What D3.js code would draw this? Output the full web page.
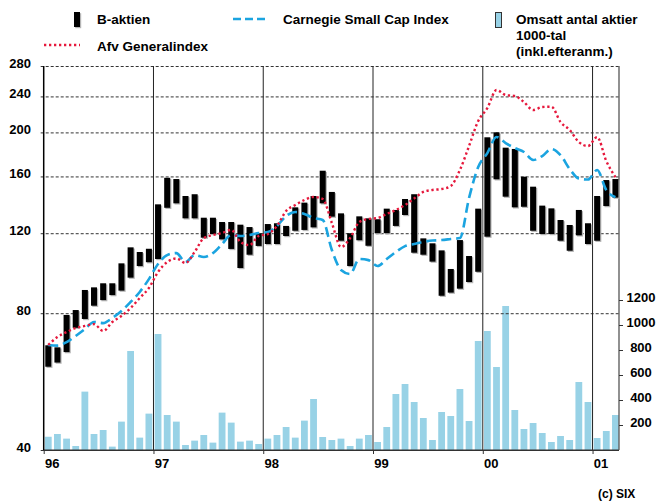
<!DOCTYPE html>
<html><head><meta charset="utf-8">
<script src="https://cdn.jsdelivr.net/npm/d3@7"></script>
<style>
body{margin:0;background:#fff}
svg text{font-family:"Liberation Sans",Arial,Helvetica,sans-serif;font-weight:bold;fill:#000}
</style>
</head><body>
<svg id="c" width="656" height="504"></svg>
<script>
// ---- data (Jan 1996 .. Mar 2001, monthly) ----
const yearLabels = ["96","97","98","99","00","01"];
const priceTicks = [40,80,120,160,200,240,280];
const volumeTicks = [200,400,600,800,1000,1200];

const bHigh = [
 68.0, 67.3, 79.3, 81.3, 90.0, 91.2, 93.1, 93.1,103.0,111.7,109.1,110.9,
138.9,158.9,157.9,144.9,146.2,129.8,129.8,127.0,127.0,125.3,123.8,120.0,
125.7,126.2,124.5,136.8,140.1,144.9,164.7,147.9,132.7,120.0,130.7,129.4,
128.8,135.9,135.0,142.7,146.2,116.9,114.0,110.0,100.1,115.9,106.9,135.9,
195.1,200.1,185.1,183.9,159.8,151.9,138.0,136.1,128.3,125.1,135.0,126.2,
144.9,157.1,157.9];
const bLow = [
 61.0, 62.3, 65.7, 74.3, 77.7, 83.1, 85.5, 87.7, 89.7, 95.8,101.6,103.6,
105.3,136.5,139.6,129.4,129.4,117.3,119.5,116.3,110.8,100.6,107.6,112.5,
113.6,113.6,118.3,121.5,122.0,123.6,139.6,130.5,115.5,101.6,115.8,112.6,
120.0,120.0,124.5,131.6,108.7,107.6,103.9, 87.4, 88.8, 90.6, 93.7, 98.7,
117.9,157.7,144.4,136.8,137.2,121.5,119.5,119.5,115.5,109.8,118.7,113.6,
115.5,137.7,143.7];
const afvGeneral = [
 68.1, 70.9, 72.7, 74.2, 75.0, 75.7, 73.1, 76.5, 78.9, 82.1, 86.4, 90.9,
 98.6,103.7,105.6,103.2,109.1,117.1,118.9,120.1,122.0,114.8,113.0,118.3,
119.5,124.5,134.3,138.4,142.0,144.2,142.7,126.4,111.9,117.1,127.0,129.0,
129.6,132.3,135.0,138.4,143.1,147.9,149.4,150.1,152.4,165.3,186.7,211.9,
226.3,247.9,241.7,240.5,233.3,224.0,227.4,227.8,210.8,202.4,190.5,186.7,
195.3,173.0,159.5];
const carnegieSmallCap = [
 68.1, 67.9, 69.1, 71.3, 73.8, 76.5, 76.1, 78.1, 80.9, 84.7, 89.1, 95.1,
102.7,107.4,108.5,103.7,107.4,106.4,108.5,113.6,118.9,118.3,118.9,120.1,
120.7,124.5,130.9,133.6,132.3,129.6,128.3,110.2, 99.6, 97.6,105.3,104.7,
101.6,105.3,109.1,112.4,113.6,114.8,115.6,115.9,116.5,117.1,143.5,167.8,
180.1,195.4,189.5,184.8,181.1,173.9,177.4,183.9,178.3,166.1,158.3,157.5,
165.3,149.3,144.1];
const volume = [
106,128, 91, 32,467,128,160, 27,227,792, 99,291,
928,280,227, 40, 75,120, 59,299,219, 67, 75, 48,
 91,120,184, 99,235,408,104, 80, 91, 32, 91,120,
 64,184,448,528,384,256, 80,304,272,488,232,872,
952,664,1152,320,168,216,136, 64,112, 80,544,384,
 96,152,280];

// ---- layout ----
const xL = 43.7, xR = 619, yT = 66, yB = 450;
const nMonths = bHigh.length;
const svg = d3.select("#c");
const x = d3.scaleLinear().domain([0, 63]).range([xL, 620]);
const y = d3.scaleLog().domain([40, 280]).range([yB, yT]);
const yv = d3.scaleLinear().domain([0, 1200]).range([yB, 300]);
const idx = d3.range(nMonths);

// volume bars
svg.append("g").selectAll("rect").data(idx).join("rect")
  .attr("x", i => x(i + 0.5) - 3.4).attr("width", 6.8)
  .attr("y", i => yv(volume[i])).attr("height", i => yB - yv(volume[i]))
  .attr("fill", "#98d2e6");

// left axis with dashed gridlines
const gl = svg.append("g").attr("transform", `translate(${xL},0)`)
  .call(d3.axisLeft(y).tickValues(priceTicks).tickFormat(d3.format("d")).tickSizeOuter(0));
gl.select(".domain").remove();
gl.selectAll(".tick line").attr("x1", -3).attr("x2", xR - xL)
  .attr("stroke", "#333").attr("stroke-width", 1)
  .attr("stroke-dasharray", d => d === 40 ? null : "3,2");
gl.selectAll(".tick text").attr("x", 31 - xL).attr("dy", 1).attr("text-anchor", "end")
  .attr("font-size", 13).attr("fill", "#000");

// year lines
const yearIdx = [0, 12, 24, 36, 48, 60];
svg.append("g").selectAll("line").data(yearIdx.slice(1)).join("line")
  .attr("x1", d => x(d)).attr("x2", d => x(d)).attr("y1", yT).attr("y2", yB)
  .attr("stroke", "#222").attr("stroke-width", 1);

// bottom axis
const gb = svg.append("g").attr("transform", `translate(0,${yB})`)
  .call(d3.axisBottom(x).tickValues(yearIdx).tickFormat((d, i) => yearLabels[i]).tickSize(4).tickSizeOuter(0));
gb.select(".domain").attr("stroke", "#333").attr("d", `M${xL},0H${xR}`);
gb.selectAll(".tick line").attr("stroke", "#333");
gb.selectAll(".tick text").attr("text-anchor", "start").attr("x", 0.8).attr("y", 18).attr("dy", 0)
  .attr("font-size", 13).attr("fill", "#000");

// left & right axis lines
svg.append("line").attr("x1", xL).attr("x2", xL).attr("y1", yT).attr("y2", yB)
  .attr("stroke", "#000").attr("stroke-width", 1.5);
const gr = svg.append("g").attr("transform", `translate(${xR},0)`)
  .call(d3.axisRight(yv).tickValues(volumeTicks).tickFormat(d3.format("d")).tickSize(4).tickSizeOuter(0));
gr.select(".domain").attr("stroke", "#555").attr("stroke-width", 1.3).attr("d", `M0,${yT}V${yB}`);
gr.selectAll(".tick line").attr("stroke", "#333");
gr.selectAll(".tick text").attr("x", 641 - xR).attr("text-anchor", "middle").attr("dy", 1)
  .attr("font-size", 13).attr("fill", "#000");

// B-aktien range bars
const gbars = svg.append("g");
gbars.selectAll("rect.s").data(idx).join("rect").attr("class", "s")
  .attr("x", i => x(i + 0.5) - 3 + 1.2).attr("width", 6)
  .attr("y", i => y(bHigh[i]) + 1.2).attr("height", i => y(bLow[i]) - y(bHigh[i]))
  .attr("fill", "#b5b5b5");
gbars.selectAll("rect.b").data(idx).join("rect").attr("class", "b")
  .attr("x", i => x(i + 0.5) - 3).attr("width", 6)
  .attr("y", i => y(bHigh[i])).attr("height", i => y(bLow[i]) - y(bHigh[i]))
  .attr("fill", "#000");

// index lines
const line = d3.line().x((d, i) => x(i + 0.5)).y(d => y(d)).curve(d3.curveMonotoneX);
svg.append("path").attr("d", line(carnegieSmallCap)).attr("fill", "none")
  .attr("stroke", "#1ba4e0").attr("stroke-width", 2.6).attr("stroke-dasharray", "10,5");
svg.append("path").attr("d", line(afvGeneral)).attr("fill", "none")
  .attr("stroke", "#e6183c").attr("stroke-width", 2.4).attr("stroke-dasharray", "2.3,2.7");

// legend
const lg = svg.append("g");
lg.append("rect").attr("x", 75.2).attr("y", 13.2).attr("width", 6).attr("height", 15).attr("fill", "#b5b5b5");
lg.append("rect").attr("x", 74).attr("y", 12).attr("width", 6).attr("height", 15).attr("fill", "#000");
lg.append("text").attr("x", 97).attr("y", 24).attr("font-size", 13.5).text("B-aktien");
lg.append("line").attr("x1", 44).attr("x2", 80).attr("y1", 45).attr("y2", 45)
  .attr("stroke", "#e6183c").attr("stroke-width", 2.4).attr("stroke-dasharray", "2.3,2.7");
lg.append("text").attr("x", 97).attr("y", 51).attr("font-size", 13.5).text("Afv Generalindex");
lg.append("line").attr("x1", 233).attr("x2", 265).attr("y1", 19).attr("y2", 19)
  .attr("stroke", "#1ba4e0").attr("stroke-width", 2.6).attr("stroke-dasharray", "8,4");
lg.append("text").attr("x", 283).attr("y", 24).attr("font-size", 13.5).text("Carnegie Small Cap Index");
lg.append("rect").attr("x", 495.5).attr("y", 12.5).attr("width", 6).attr("height", 15)
  .attr("fill", "#98d2e6").attr("stroke", "#333").attr("stroke-width", 1);
lg.append("text").attr("x", 516).attr("y", 24).attr("font-size", 13.5).text("Omsatt antal aktier");
lg.append("text").attr("x", 516).attr("y", 40).attr("font-size", 13.5).text("1000-tal");
lg.append("text").attr("x", 516).attr("y", 56).attr("font-size", 13.5).text("(inkl.efteranm.)");

svg.append("text").attr("x", 598).attr("y", 498).attr("font-size", 12).text("(c) SIX");
</script>
</body></html>
